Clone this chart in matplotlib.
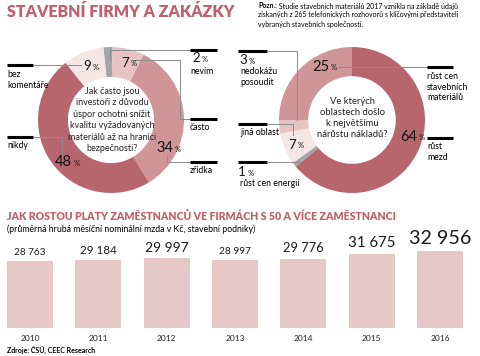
import matplotlib
matplotlib.use('Agg')
import matplotlib.pyplot as plt

plt.rcParams['font.family'] = ['Lato', 'DejaVu Sans']

# --- data ---
left_labels = ['nevím', 'často', 'zřídka', 'nikdy', 'bez komentáře']
left_values = [2, 7, 34, 48, 9]
right_labels = ['růst mezd', 'růst cen energií', 'jiná oblast', 'nedokážu posoudit',
                'růst cen stavebních materiálů']
right_values = [64, 1, 7, 3, 25]
years = ['2010', '2011', '2012', '2013', '2014', '2015', '2016']
wages = [28763, 29184, 29997, 28997, 29776, 31675, 32956]

left_colors = ['#a3a6a9', '#e7c3c2', '#d09596', '#b8666e', '#f4e6e4']
right_colors = ['#b8666e', '#a3a6a9', '#f4e6e4', '#e7c3c2', '#d09596']
red = '#c0616b'
W, H = 480, 356

fig = plt.figure(figsize=(W / 100, H / 100), dpi=100)


def px_axes(cx, cy, r):
    return fig.add_axes([(cx - r) / W, (H - cy - r) / H, 2 * r / W, 2 * r / H])


# donuts
axl = px_axes(111, 120, 73)
axl.pie(left_values, colors=left_colors, startangle=96, counterclock=False,
        radius=1, wedgeprops=dict(width=0.41, linewidth=0))
axl.set_xlim(-1, 1)
axl.set_ylim(-1, 1)
axl.axis('off')

axr = px_axes(352, 120, 73)
axr.pie(right_values, colors=right_colors, startangle=90, counterclock=False,
        radius=1, wedgeprops=dict(width=0.4, linewidth=0))
axr.set_xlim(-1, 1)
axr.set_ylim(-1, 1)
axr.axis('off')

# bars
axb = fig.add_axes([7 / W, (H - 328) / H, 456 / W, 90 / H])
axb.bar(range(len(years)), wages, width=0.67, color='#e6c8c6')
axb.set_xlim(-0.335, len(years) - 1 + 0.335)
axb.set_ylim(0, 90 / (67 / 28763))
axb.axis('off')
label_sizes = [7.2, 8.4, 10, 7.3, 9.3, 10.8, 14.2]
for i, (v, s) in enumerate(zip(wages, label_sizes)):
    axb.annotate(f'{v:,}'.replace(',', ' '), (i, v), xytext=(0, 3),
                 textcoords='offset points', ha='center', va='bottom',
                 fontsize=s, color='#1a1a1a')
    axb.annotate(years[i], (i, 0), xytext=(0, -5), textcoords='offset points',
                 ha='center', va='top', fontsize=6, color='#222222')

# overlay in pixel coordinates
ov = fig.add_axes([0, 0, 1, 1], zorder=5)
ov.set_xlim(0, W)
ov.set_ylim(H, 0)
ov.axis('off')
ov.patch.set_alpha(0)

ov.text(7, 12, 'STAVEBNÍ FIRMY A ZAKÁZKY', fontsize=11.5, fontweight='heavy',
        color=red, va='center', ha='left')
pozn = ov.text(258, 6, 'Pozn.:', fontsize=5, fontweight='bold', va='center')
ov.annotate(' Studie stavebních materiálů 2017 vznikla na základě údajů',
            xy=(1, 0.5), xycoords=pozn, fontsize=5, va='center', ha='left')
ov.text(258, 15, 'získaných z 265 telefonických rozhovorů s klíčovými představiteli',
        fontsize=5, va='center')
ov.text(258, 24, 'vybraných stavebních společností.', fontsize=5, va='center')

ov.text(112, 120, 'Jak často jsou\ninvestoři z důvodu\núspor ochotni snížit\n'
        'kvalitu vyžadovaných\nmateriálů až na hranici\nbezpečnosti?',
        fontsize=6.5, ha='center', va='center', linespacing=1.35, color='#222222')
ov.text(352, 118, 'Ve kterých\noblastech došlo\nk největšímu\nnárůstu nákladů?',
        fontsize=6.8, ha='center', va='center', linespacing=1.3, color='#222222')

grey = '#8c8c8c'


def bar_mark(x0, x1, y):
    ov.plot([x0, x1], [y, y], color='black', lw=2.2, solid_capstyle='butt')


def leader(pts):
    xs, ys = zip(*pts)
    ov.plot(xs, ys, color=grey, lw=0.7)


def pct(x, y, val, size=9.5):
    ov.text(x, y, str(val), fontsize=size, ha='right', va='center', color='#111111')
    ov.text(x + 2, y + 1, '%', fontsize=5.5, ha='left', va='center', color='#111111')


# left donut labels
bar_mark(7, 33, 65)
leader([(33, 65), (81, 65)])
pct(91, 66, left_values[4])
ov.text(7, 70, 'bez\nkomentáře', fontsize=6.3, va='top', linespacing=1.25)

bar_mark(7, 33, 137)
leader([(33, 137), (62, 137), (62, 153)])
pct(72, 162, left_values[3], 10.5)
ov.text(7, 141, 'nikdy', fontsize=6.3, va='top')

leader([(110, 60), (110, 50), (190, 50)])
bar_mark(190, 217, 50)
pct(200, 58, left_values[0])
ov.text(190, 67, 'nevím', fontsize=6.3, va='top')

leader([(134, 60), (180, 60), (180, 119), (190, 119)])
pct(129, 63, left_values[1])
bar_mark(190, 217, 119)
ov.text(190, 123, 'často', fontsize=6.3, va='top')

pct(173, 148, left_values[2], 10.5)
leader([(167, 156), (167, 162), (190, 162)])
bar_mark(190, 217, 162)
ov.text(190, 166, 'zřídka', fontsize=6.3, va='top')

# right donut labels
bar_mark(238, 267, 51)
leader([(267, 51), (297, 51), (297, 120)])
pct(247, 60, right_values[3])
ov.text(240, 67, 'nedokážu\nposoudit', fontsize=6.3, va='top', linespacing=1.3)

pct(329, 67, right_values[4], 10.5)
leader([(338, 67), (427, 67)])
bar_mark(427, 453, 67)
ov.text(427, 72, 'růst cen\nstavebních\nmateriálů', fontsize=6.3, va='top',
        linespacing=1.25)

bar_mark(238, 267, 124)
leader([(267, 124), (293, 124), (293, 135)])
ov.text(240, 128, 'jiná oblast', fontsize=6.3, va='top')
pct(296, 145, right_values[2])

bar_mark(238, 267, 162)
leader([(267, 162), (300, 162)])
pct(246, 172, right_values[1])
ov.text(240, 179, 'růst cen energií', fontsize=6.3, va='top')

pct(417, 137, right_values[0], 10.5)
bar_mark(427, 453, 138)
ov.text(427, 142, 'růst\nmezd', fontsize=6.3, va='top', linespacing=1.25)

# bottom section titles
ov.text(7, 216, 'JAK ROSTOU PLATY ZAMĚSTNANCŮ VE FIRMÁCH S 50 A VÍCE ZAMĚSTNANCI',
        fontsize=7.6, fontweight='heavy', color=red, va='center')
ov.text(7, 229, '(průměrná hrubá měsíční nominální mzda v Kč, stavební podniky)',
        fontsize=6.3, va='center')
ov.text(7, 350, 'Zdroje: ČSÚ, CEEC Research', fontsize=5, fontweight='bold',
        va='center')

fig.savefig('out.png', dpi=100)
